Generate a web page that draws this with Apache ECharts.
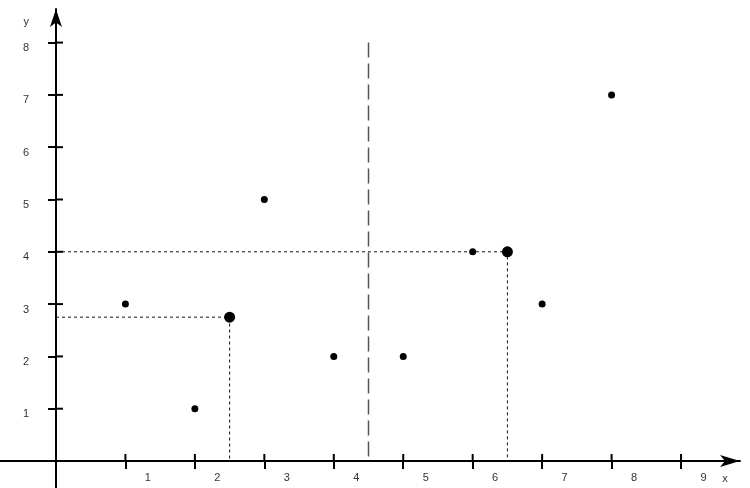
<!DOCTYPE html>
<html>
<head>
<meta charset="utf-8">
<script src="https://cdn.jsdelivr.net/npm/echarts@6/dist/echarts.min.js"></script>
<style>
html, body { margin: 0; padding: 0; background: #fff; }
#chart { width: 750px; height: 488px; }
</style>
</head>
<body>
<div id="chart"></div>
<script>
var xTicks = [1, 2, 3, 4, 5, 6, 7, 8, 9];
var yTicks = [1, 2, 3, 4, 5, 6, 7, 8];
var pointX = [1, 2, 3, 4, 5, 6, 7, 8];
var pointY = [3, 1, 5, 2, 2, 4, 3, 7];
var markX = [2.5, 6.5];
var markY = [2.75, 4];
var splitX = 4.5;
var splitTop = 8;

var xMin = -0.806, xMax = 9.849;
var yMin = -0.516, yMax = 8.642;

function tickText(list) {
    return function (v) {
        return list.indexOf(v) >= 0 ? String(v) : '';
    };
}

function getchart(id) {
    var chartDom = document.getElementById(id);
    var myChart = echarts.init(chartDom);

    var points = [];
    for (var i = 0; i < pointX.length; i++) {
        points.push([pointX[i], pointY[i]]);
    }
    var bigPoints = [];
    for (var j = 0; j < markX.length; j++) {
        bigPoints.push([markX[j], markY[j]]);
    }
    // inner halves of the ticks (axis ticks only draw one side)
    var tickMarks = [];
    xTicks.forEach(function (v) { tickMarks.push([v, 0, 0]); });
    yTicks.forEach(function (v) { tickMarks.push([0, v, 1]); });

    var labelStyle = {
        fontFamily: 'Liberation Sans',
        fontSize: 11,
        color: '#333'
    };

    var series = [
        {
            name: 'split',
            type: 'line',
            symbol: 'none',
            data: [[splitX, splitTop], [splitX, 0]],
            lineStyle: { color: '#555', width: 1.5, type: [15, 6] },
            silent: true
        },
        {
            name: 'points',
            type: 'scatter',
            symbolSize: 7,
            itemStyle: { color: '#000', opacity: 1 },
            data: points
        },
        {
            name: 'marks',
            type: 'scatter',
            symbolSize: 11,
            itemStyle: { color: '#000', opacity: 1 },
            data: bigPoints,
            z: 5
        },
        {
            name: 'ticks',
            type: 'custom',
            silent: true,
            data: tickMarks,
            renderItem: function (params, api) {
                var p = api.coord([api.value(0), api.value(1)]);
                var vertical = api.value(2) === 0;
                return {
                    type: 'line',
                    shape: vertical
                        ? { x1: p[0], y1: p[1] - 7, x2: p[0], y2: p[1] }
                        : { x1: p[0], y1: p[1], x2: p[0] + 7, y2: p[1] },
                    style: { stroke: '#000', lineWidth: 2 }
                };
            }
        }
    ];
    // dotted guides from each big point to both axes
    for (var k = 0; k < markX.length; k++) {
        series.push({
            type: 'line',
            symbol: 'none',
            data: [[0, markY[k]], [markX[k], markY[k]], [markX[k], 0]],
            lineStyle: { color: '#111', width: 1, type: [3, 3] },
            silent: true
        });
    }

    var option = {
        animation: false,
        backgroundColor: '#fff',
        grid: { left: 0, right: 10, top: 9, bottom: 0, outerBoundsMode: 'none' },
        xAxis: {
            type: 'value',
            min: xMin,
            max: xMax,
            splitNumber: 10,
            splitLine: { show: false },
            name: 'x',
            nameLocation: 'end',
            nameGap: -15,
            nameTextStyle: Object.assign({}, labelStyle, { align: 'center', verticalAlign: 'top', padding: [12, 0, 0, 0] }),
            axisLine: {
                onZero: true,
                symbol: ['none', 'arrow'], symbolSize: [9, 20],
                lineStyle: { color: '#000', width: 2 }
            },
            axisTick: { customValues: xTicks, length: 8, lineStyle: { color: '#000', width: 2 } },
            // labels sit at the grid edge, so pull them back up
            axisLabel: Object.assign({}, labelStyle, {
                formatter: tickText(xTicks), margin: -16, align: 'center', padding: [0, 0, 0, 45]
            })
        },
        yAxis: {
            type: 'value',
            min: yMin,
            max: yMax,
            splitNumber: 9,
            splitLine: { show: false },
            name: 'y',
            nameLocation: 'end',
            nameGap: -13,
            nameTextStyle: Object.assign({}, labelStyle, { align: 'right', verticalAlign: 'middle', padding: [0, 27, 0, 0] }),
            axisLine: {
                onZero: true,
                symbol: ['none', 'arrow'], symbolSize: [9, 18],
                lineStyle: { color: '#000', width: 2 }
            },
            axisTick: { customValues: yTicks, length: 8, lineStyle: { color: '#000', width: 2 } },
            axisLabel: Object.assign({}, labelStyle, {
                formatter: tickText(yTicks), margin: -29, align: 'right', verticalAlign: 'top'
            })
        },
        series: series
    };
    option && myChart.setOption(option);
}

getchart('chart');
</script>
</body>
</html>
